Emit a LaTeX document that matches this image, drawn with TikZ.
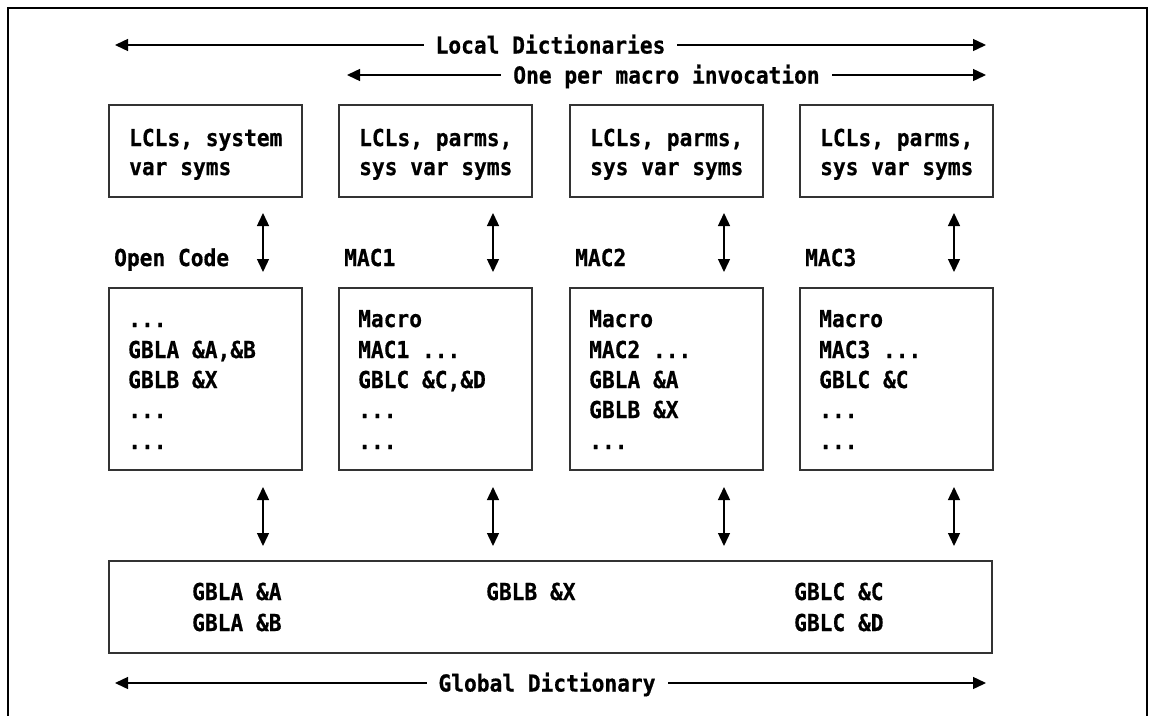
\documentclass[tikz,border=0pt]{standalone}
\usepackage{fontspec}
\newfontfamily\dmono{DejaVu Sans Mono}[UprightFont=* Bold, FakeStretch=0.91, FakeBold=0.6]
\usetikzlibrary{arrows.meta,calc}
\tikzset{
  box/.style={draw=black!80, line width=1.2pt, rectangle, inner sep=0pt, outer sep=0pt, anchor=north west},
  ln/.style={font=\dmono\fontsize{23.3}{28}\selectfont, anchor=base west, inner sep=0pt},
  hdr/.style={ln, anchor=base, fill=white, inner xsep=12pt, inner ysep=3pt},
  dbl/.style={{Triangle[length=13pt,width=12pt]}-{Triangle[length=13pt,width=12pt]}, line width=1.4pt},
}
\begin{document}
\begin{tikzpicture}[x=1pt,y=-1pt]
\useasboundingbox (0,0) rectangle (1159,715);
\clip (0,0) rectangle (1159,715);
\draw[line width=2.7pt] (8,725) -- (8,8) -- (1147,8) -- (1147,725);

% header arrows
\coordinate (l1) at (115,45); \coordinate (r1) at (986,45);
\coordinate (l2) at (347,75); \coordinate (r2) at (986,75);
\draw[dbl] (l1) -- (r1);
\draw[dbl] (l2) -- (r2);
\node[hdr] (h1) at (550.5,53.5) {Local Dictionaries};
\node[hdr] (h2) at (666.5,83.5) {One per macro invocation};

% top boxes
\node[box, minimum width=193pt, minimum height=92pt] (T1) at (109,105) {};
\node[box, minimum width=193pt, minimum height=92pt] (T2) at (339,105) {};
\node[box, minimum width=193pt, minimum height=92pt] (T3) at (570,105) {};
\node[box, minimum width=193pt, minimum height=92pt] (T4) at (800,105) {};
\node[ln] (t1a) at (129,146) {LCLs, system};
\node[ln] (t1b) at (129,175) {var syms};
\node[ln] (t2a) at (359,146) {LCLs, parms,};
\node[ln] (t2b) at (359,175) {sys var syms};
\node[ln] (t3a) at (590,146) {LCLs, parms,};
\node[ln] (t3b) at (590,175) {sys var syms};
\node[ln] (t4a) at (820,146) {LCLs, parms,};
\node[ln] (t4b) at (820,175) {sys var syms};

% labels
\node[ln] (lab1) at (114,266) {Open Code};
\node[ln] (lab2) at (344,266) {MAC1};
\node[ln] (lab3) at (575,266) {MAC2};
\node[ln] (lab4) at (805,266) {MAC3};

% middle boxes
\node[box, minimum width=193pt, minimum height=182pt] (M1) at (109,288) {};
\node[box, minimum width=193pt, minimum height=182pt] (M2) at (339,288) {};
\node[box, minimum width=193pt, minimum height=182pt] (M3) at (570,288) {};
\node[box, minimum width=193pt, minimum height=182pt] (M4) at (800,288) {};

\node[ln] (m1a) at (128,327) {...};
\node[ln] (m1b) at (128,358) {GBLA \&A,\&B};
\node[ln] (m1c) at (128,388) {GBLB \&X};
\node[ln] (m1d) at (128,418) {...};
\node[ln] (m1e) at (128,449) {...};

\node[ln] (m2a) at (358,327) {Macro};
\node[ln] (m2b) at (358,358) {MAC1 ...};
\node[ln] (m2c) at (358,388) {GBLC \&C,\&D};
\node[ln] (m2d) at (358,418) {...};
\node[ln] (m2e) at (358,449) {...};

\node[ln] (m3a) at (589,327) {Macro};
\node[ln] (m3b) at (589,358) {MAC2 ...};
\node[ln] (m3c) at (589,388) {GBLA \&A};
\node[ln] (m3d) at (589,418) {GBLB \&X};
\node[ln] (m3e) at (589,449) {...};

\node[ln] (m4a) at (819,327) {Macro};
\node[ln] (m4b) at (819,358) {MAC3 ...};
\node[ln] (m4c) at (819,388) {GBLC \&C};
\node[ln] (m4d) at (819,418) {...};
\node[ln] (m4e) at (819,449) {...};

% bottom box
\node[box, minimum width=883pt, minimum height=92pt] (B) at (109,561) {};
\node[ln] (b1) at (192,600) {GBLA \&A};
\node[ln] (b2) at (192,631) {GBLA \&B};
\node[ln] (b3) at (486,600) {GBLB \&X};
\node[ln] (b4) at (794,600) {GBLC \&C};
\node[ln] (b5) at (794,631) {GBLC \&D};

% vertical arrows
\foreach \i in {1,2,3,4}{
  \coordinate (ua\i) at ([xshift=154pt]T\i.south west);
  \coordinate (ub\i) at ([xshift=154pt]M\i.north west);
  \coordinate (da\i) at ([xshift=154pt]M\i.south west);
  \draw[dbl, shorten <=16pt, shorten >=16pt] (ua\i) -- (ub\i);
  \draw[dbl, shorten <=17pt, shorten >=15pt] (da\i) -- (da\i |- B.north);
}

% global arrow
\coordinate (l3) at (115,683); \coordinate (r3) at (986,683);
\draw[dbl] (l3) -- (r3);
\node[hdr] (h3) at (547,691.5) {Global Dictionary};
\end{tikzpicture}
\end{document}
